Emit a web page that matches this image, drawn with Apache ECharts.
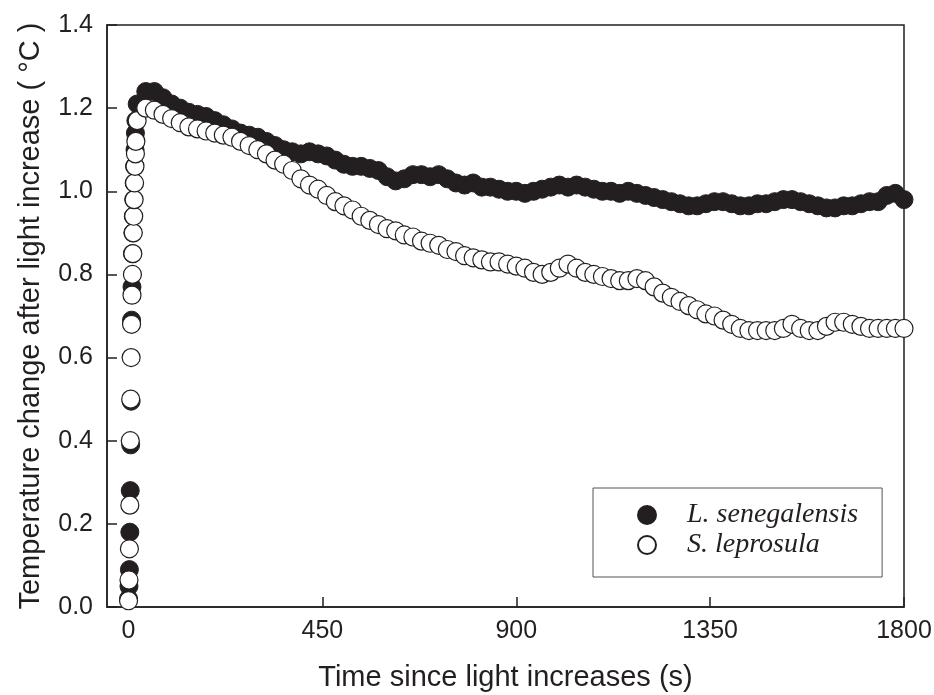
<!DOCTYPE html>
<html>
<head>
<meta charset="utf-8">
<script src="https://cdn.jsdelivr.net/npm/echarts@6/dist/echarts.min.js"></script>
<style>
  html, body { margin: 0; padding: 0; background: #fff; }
  #chart { width: 934px; height: 695px; }
</style>
</head>
<body>
<div id="chart"></div>
<script>
// time (s) of the first readings, while the temperature rises
const riseTime = [0, 1, 2, 3, 4, 5, 6, 7, 8, 9, 10, 11, 12, 13, 14, 15, 16, 17];
// time (s) of the readings after the peak
const decayTime = [
  20, 40, 60, 80, 100, 120, 140, 160, 180, 200, 220, 240, 260, 280, 300,
  320, 340, 360, 380, 400, 420, 440, 460, 480, 500, 520, 540, 560, 580, 600,
  620, 640, 660, 680, 700, 720, 740, 760, 780, 800, 820, 840, 860, 880, 900,
  920, 940, 960, 980, 1000, 1020, 1040, 1060, 1080, 1100, 1120, 1140, 1160, 1180, 1200,
  1220, 1240, 1260, 1280, 1300, 1320, 1340, 1360, 1380, 1400, 1420, 1440, 1460, 1480, 1500,
  1520, 1540, 1560, 1580, 1600, 1620, 1640, 1660, 1680, 1700, 1720, 1740, 1760, 1780, 1800
];

// L. senegalensis (filled circles)
const senRise = [0.02, 0.05, 0.09, 0.18, 0.28, 0.39, 0.495, 0.69, 0.77, 0.85, 0.9, 0.94, 0.98, 1.02, 1.06, 1.1, 1.14, 1.17];
const senDecay = [
  1.21, 1.24, 1.24, 1.225, 1.21, 1.2, 1.19, 1.185, 1.18, 1.17, 1.16, 1.15, 1.14, 1.135, 1.13,
  1.12, 1.11, 1.1, 1.095, 1.09, 1.095, 1.09, 1.085, 1.075, 1.065, 1.06, 1.06, 1.055, 1.05, 1.035,
  1.025, 1.03, 1.04, 1.04, 1.035, 1.04, 1.03, 1.02, 1.015, 1.02, 1.01, 1.01, 1.005, 1.0, 1.0,
  0.995, 1.0, 1.005, 1.01, 1.015, 1.01, 1.015, 1.01, 1.005, 1.0, 1.0, 0.995, 1.0, 0.995, 0.99,
  0.985, 0.98, 0.975, 0.97, 0.965, 0.965, 0.97, 0.975, 0.975, 0.97, 0.965, 0.965, 0.97, 0.97, 0.975,
  0.98, 0.98, 0.975, 0.97, 0.965, 0.96, 0.96, 0.965, 0.965, 0.97, 0.975, 0.975, 0.99, 0.995, 0.98
];

// S. leprosula (open circles)
const lepRise = [0.015, 0.065, 0.14, 0.245, 0.4, 0.5, 0.6, 0.68, 0.75, 0.8, 0.85, 0.9, 0.94, 0.98, 1.02, 1.06, 1.09, 1.12];
const lepDecay = [
  1.17, 1.2, 1.195, 1.185, 1.175, 1.165, 1.155, 1.15, 1.145, 1.14, 1.135, 1.13, 1.12, 1.11, 1.1,
  1.09, 1.075, 1.065, 1.05, 1.03, 1.015, 1.005, 0.99, 0.975, 0.965, 0.955, 0.94, 0.93, 0.92, 0.91,
  0.905, 0.895, 0.89, 0.88, 0.875, 0.87, 0.86, 0.855, 0.845, 0.84, 0.835, 0.83, 0.83, 0.825, 0.82,
  0.815, 0.805, 0.8, 0.805, 0.815, 0.825, 0.815, 0.805, 0.8, 0.795, 0.79, 0.785, 0.785, 0.79, 0.785,
  0.77, 0.755, 0.745, 0.735, 0.725, 0.715, 0.705, 0.7, 0.69, 0.68, 0.67, 0.665, 0.665, 0.665, 0.665,
  0.67, 0.68, 0.67, 0.665, 0.665, 0.675, 0.685, 0.685, 0.68, 0.675, 0.67, 0.67, 0.67, 0.67, 0.67
];

const xTicks = [0, 450, 900, 1350, 1800];
const ink = '#231f20';

const pairs = (ts, vs) => ts.map((t, i) => [t, vs[i]]);
const senData = pairs(riseTime, senRise).concat(pairs(decayTime, senDecay));
const lepData = pairs(riseTime, lepRise).concat(pairs(decayTime, lepDecay));

const options = {
  animation: false,
  grid: {
    left: 107,
    right: 30,
    top: 25,
    bottom: 88,
    outerBoundsMode: 'none',
    show: true,
    borderColor: ink,
    borderWidth: 1.5
  },
  legend: {
    left: 593,
    top: 488,
    orient: 'vertical',
    icon: 'circle',
    itemWidth: 70,
    itemHeight: 18,
    itemGap: 0,
    padding: [12, 24, 17, 44],
    borderColor: '#555',
    borderWidth: 1,
    textStyle: {
      fontFamily: 'Liberation Serif',
      fontStyle: 'italic',
      fontSize: 28,
      lineHeight: 30,
      color: ink
    },
    data: ['L. senegalensis', 'S. leprosula']
  },
  xAxis: {
    type: 'value',
    min: -50,
    max: 1800,
    name: 'Time since light increases (s)',
    nameLocation: 'middle',
    nameGap: 56,
    nameTextStyle: { fontFamily: 'Liberation Sans', fontSize: 29, color: ink },
    axisLine: { show: true, lineStyle: { color: ink, width: 1.5 } },
    axisTick: { show: true, inside: true, length: 10, customValues: xTicks, lineStyle: { color: ink, width: 1.5 } },
    axisLabel: {
      customValues: xTicks,
      margin: 12,
      fontFamily: 'Liberation Sans',
      fontSize: 25,
      color: ink,
      formatter: v => String(v)
    },
    splitLine: { show: false }
  },
  yAxis: {
    type: 'value',
    min: 0,
    max: 1.4,
    interval: 0.2,
    name: 'Temperature change after light increase ( °C )',
    nameLocation: 'middle',
    nameGap: 62,
    nameTextStyle: { fontFamily: 'Liberation Sans', fontSize: 29, color: ink },
    axisLine: { show: true, onZero: false, lineStyle: { color: ink, width: 1.5 } },
    axisTick: { show: true, inside: true, length: 10, lineStyle: { color: ink, width: 1.5 } },
    axisLabel: {
      margin: 14,
      fontFamily: 'Liberation Sans',
      fontSize: 25,
      color: ink,
      formatter: v => v.toFixed(1)
    },
    splitLine: { show: false }
  },
  series: [
    {
      name: 'L. senegalensis',
      type: 'scatter',
      symbol: 'circle',
      symbolSize: 18,
      itemStyle: { color: ink, borderColor: ink, borderWidth: 1, opacity: 1 },
      data: senData
    },
    {
      name: 'S. leprosula',
      type: 'scatter',
      symbol: 'circle',
      symbolSize: 18,
      itemStyle: { color: '#fff', borderColor: ink, borderWidth: 1.2, opacity: 1 },
      data: lepData
    }
  ]
};

const chart = echarts.init(document.getElementById('chart'), null, { renderer: 'canvas' });
chart.setOption(options, true);
</script>
</body>
</html>
